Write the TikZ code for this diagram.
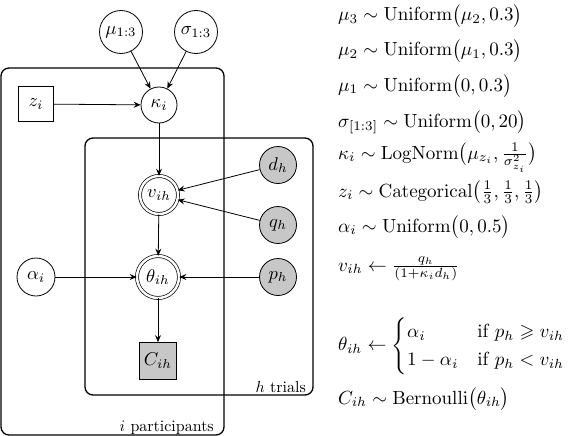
\documentclass[tikz,border=0pt]{standalone}
\usepackage{amsmath,amssymb}
\usepackage{graphicx}
\usetikzlibrary{arrows.meta}
\newcommand{\bigtxt}[1]{\scalebox{1.85}{#1}}
\newcommand{\eqtxt}[1]{\scalebox{1.9}{#1}}
\newcommand{\labtxt}[1]{\scalebox{1.6}{#1}}
\begin{document}
\begin{tikzpicture}[x=1pt,y=-1pt,
  latent/.style={circle,draw,line width=0.8pt,inner sep=0pt,minimum size=#1},
  obs/.style={circle,draw,line width=0.8pt,inner sep=0pt,fill=black!22,minimum size=#1},
  detnode/.style={circle,draw,line width=0.7pt,double,double distance=2.4pt,inner sep=0pt,minimum size=#1},
  sqnode/.style={rectangle,draw,line width=0.8pt,inner sep=0pt,minimum size=#1},
  edge/.style={draw,line width=0.8pt,-{Stealth[length=7pt,width=6pt,inset=2.5pt]}},
  plate/.style={draw,line width=1.3pt,rounded corners=8pt},
  platelabel/.style={inner sep=0pt},
  eqn/.style={inner sep=0pt}
]
\useasboundingbox (0,0) rectangle (570,436);

% plates
\draw[plate] (1,68) rectangle (224,435);
\draw[plate] (85,138) rectangle (313,395);
\node[platelabel,anchor=base east] (hlab) at (306,392) {\labtxt{$h$ trials}};
\node[platelabel,anchor=base east] (ilab) at (214,431) {\labtxt{$i$ participants}};

% nodes
\node[latent=43] (mu) at (121,32) {\bigtxt{$\mu_{1:3}$}};
\node[latent=43] (sigma) at (196,32) {\bigtxt{$\sigma_{1:3}$}};
\node[latent=36] (kappa) at (159,105) {\bigtxt{$\kappa_i$}};
\node[sqnode=35] (z) at (36,104) {\bigtxt{$z_i$}};
\node[detnode=38] (v) at (159,195) {\bigtxt{$v_{ih}$}};
\node[obs=37] (d) at (278,165) {\bigtxt{$d_h$}};
\node[obs=37] (q) at (278,225) {\bigtxt{$q_h$}};
\node[detnode=42] (theta) at (158,277) {\bigtxt{$\theta_{ih}$}};
\node[latent=38] (alpha) at (36,277) {\bigtxt{$\alpha_i$}};
\node[obs=37] (p) at (278,277) {\bigtxt{$p_h$}};
\node[sqnode=37,fill=black!22] (C) at (158,361) {\bigtxt{$C_{ih}$}};

% edges
\draw[edge] (mu) -- (kappa);
\draw[edge] (sigma) -- (kappa);
\draw[edge] (z) -- (kappa);
\draw[edge] (kappa) -- (v);
\draw[edge] (d) -- (v);
\draw[edge] (q) -- (v);
\draw[edge] (v) -- (theta);
\draw[edge] (alpha) -- (theta);
\draw[edge] (p) -- (theta);
\draw[edge] (theta) -- (C);

% equations
\node[eqn,anchor=base west] (e1) at (338,21) {\eqtxt{$\mu_3 \sim \mathrm{Uniform}\bigl(\mu_2, 0.3\bigr)$}};
\node[eqn,anchor=base west] (e2) at (338,56) {\eqtxt{$\mu_2 \sim \mathrm{Uniform}\bigl(\mu_1, 0.3\bigr)$}};
\node[eqn,anchor=base west] (e3) at (338,91) {\eqtxt{$\mu_1 \sim \mathrm{Uniform}\bigl(0, 0.3\bigr)$}};
\node[eqn,anchor=base west] (e4) at (338,127) {\eqtxt{$\sigma_{[1:3]} \sim \mathrm{Uniform}\bigl(0, 20\bigr)$}};
\node[eqn,anchor=base west] (e5) at (338,159) {\eqtxt{$\kappa_i \sim \mathrm{LogNorm}\bigl(\mu_{z_i}, \frac{1}{\sigma^2_{z_i}}\bigr)$}};
\node[eqn,anchor=base west] (e6) at (338,197) {\eqtxt{$z_i \sim \mathrm{Categorical}\bigl(\frac{1}{3}, \frac{1}{3}, \frac{1}{3}\bigr)$}};
\node[eqn,anchor=base west] (e7) at (338,232) {\eqtxt{$\alpha_i \sim \mathrm{Uniform}\bigl(0, 0.5\bigr)$}};
\node[eqn,anchor=base west] (e8) at (338,271) {\eqtxt{$v_{ih} \leftarrow \frac{q_h}{(1+\kappa_i d_h)}$}};
\node[eqn,anchor=west] (e9) at (338,346) {\eqtxt{$\theta_{ih} \leftarrow \begin{cases}\alpha_i & \text{if } p_h \geqslant v_{ih}\\ 1-\alpha_i & \text{if } p_h < v_{ih}\end{cases}$}};
\node[eqn,anchor=base west] (e10) at (338,404) {\eqtxt{$C_{ih} \sim \mathrm{Bernoulli}\bigl(\theta_{ih}\bigr)$}};
\end{tikzpicture}
\end{document}
